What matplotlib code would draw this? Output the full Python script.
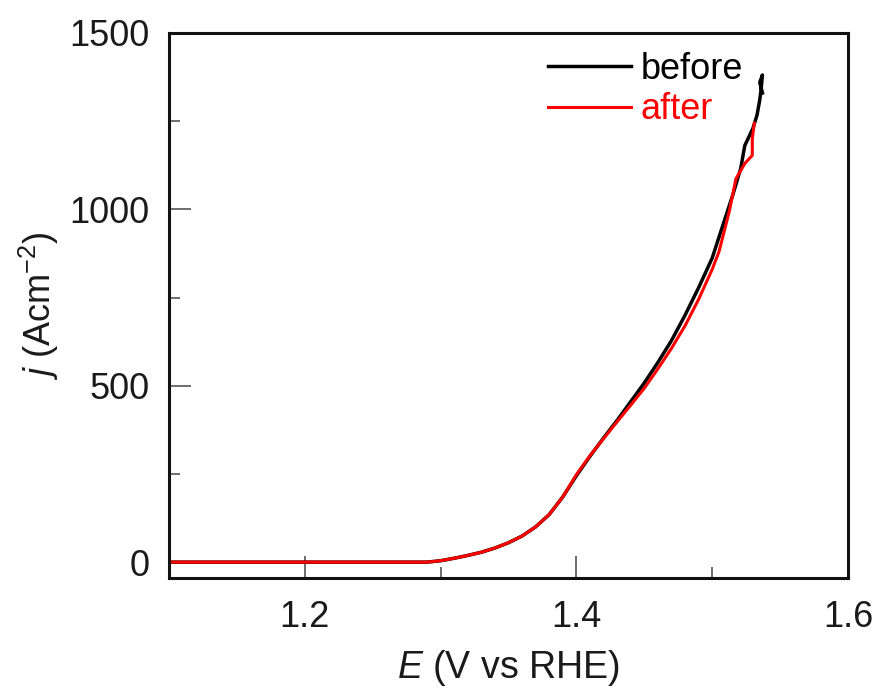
import matplotlib
matplotlib.use("Agg")
from matplotlib import pyplot as plt
from matplotlib.ticker import MultipleLocator

# polarisation curves
E_before = [1.10, 1.29, 1.30, 1.31, 1.32, 1.33, 1.34, 1.35, 1.36, 1.37, 1.38, 1.39,
            1.40, 1.41, 1.42, 1.43, 1.44, 1.45, 1.46, 1.47, 1.48, 1.49, 1.50, 1.507,
            1.515, 1.521, 1.524, 1.530, 1.533, 1.535, 1.536, 1.537, 1.535, 1.537]
j_before = [0, 0, 4, 11, 19, 28, 40, 55, 74, 100, 135, 185,
            245, 300, 352, 402, 455, 508, 566, 628, 700, 778, 862, 945,
            1039, 1116, 1181, 1230, 1267, 1310, 1340, 1381, 1360, 1330]

E_after = [1.10, 1.29, 1.30, 1.31, 1.32, 1.33, 1.34, 1.35, 1.36, 1.37, 1.38, 1.39,
           1.40, 1.41, 1.42, 1.43, 1.44, 1.45, 1.46, 1.47, 1.48, 1.49, 1.50, 1.505,
           1.5125, 1.5175, 1.524, 1.5295, 1.5295, 1.531]
j_after = [0, 0, 4, 11, 19, 28, 40, 55, 74, 100, 135, 185,
           248, 302, 350, 398, 445, 493, 548, 606, 670, 745, 830, 880,
           993, 1087, 1130, 1153, 1200, 1244]

labels = ["before", "after"]
colors = ["black", "#ff0000"]

plt.rcParams["font.family"] = ["Liberation Sans", "DejaVu Sans"]
plt.rcParams["mathtext.fontset"] = "custom"
plt.rcParams["mathtext.rm"] = "Liberation Sans"
plt.rcParams["mathtext.it"] = "Liberation Sans:italic"

fig = plt.figure(figsize=(8.78, 6.9), dpi=100)
ax = fig.add_axes([169 / 878, 1 - 578 / 690, (848 - 169) / 878, (578 - 33) / 690])

ax.plot(E_before, j_before, color=colors[0], lw=2.5, label=labels[0])
ax.plot(E_after, j_after, color=colors[1], lw=2.2, label=labels[1])

ax.set_xlim(1.1, 1.6)
ax.set_ylim(-45, 1500)
ax.xaxis.set_minor_locator(MultipleLocator(0.1))
ax.yaxis.set_major_locator(MultipleLocator(500))
ax.yaxis.set_minor_locator(MultipleLocator(250))
ax.set_xticks([1.2, 1.4, 1.6])

ax.tick_params(which="both", direction="in", colors="#555555", labelcolor="#1a1a1a",
               labelsize=26, width=1.2)
ax.tick_params(which="major", length=16)
ax.tick_params(which="minor", length=8)
ax.tick_params(axis="x", pad=16)
ax.tick_params(axis="y", pad=14)
for s in ax.spines.values():
    s.set_linewidth(2.2)
    s.set_color("#111111")

ax.set_xlabel(r"$E$ (V vs RHE)", fontsize=27, labelpad=9, color="#1a1a1a")
ax.set_ylabel(r"$j$ (Acm$^{-2}$)", fontsize=26, labelpad=6, color="#1a1a1a")

leg = ax.legend(loc="upper left", bbox_to_anchor=(0.51, 1.025), frameon=False,
                fontsize=26, handlelength=2.3, handletextpad=0.28, labelspacing=0.15)
for t, c in zip(leg.get_texts(), colors):
    t.set_color(c)

fig.savefig("out.png", dpi=100)
